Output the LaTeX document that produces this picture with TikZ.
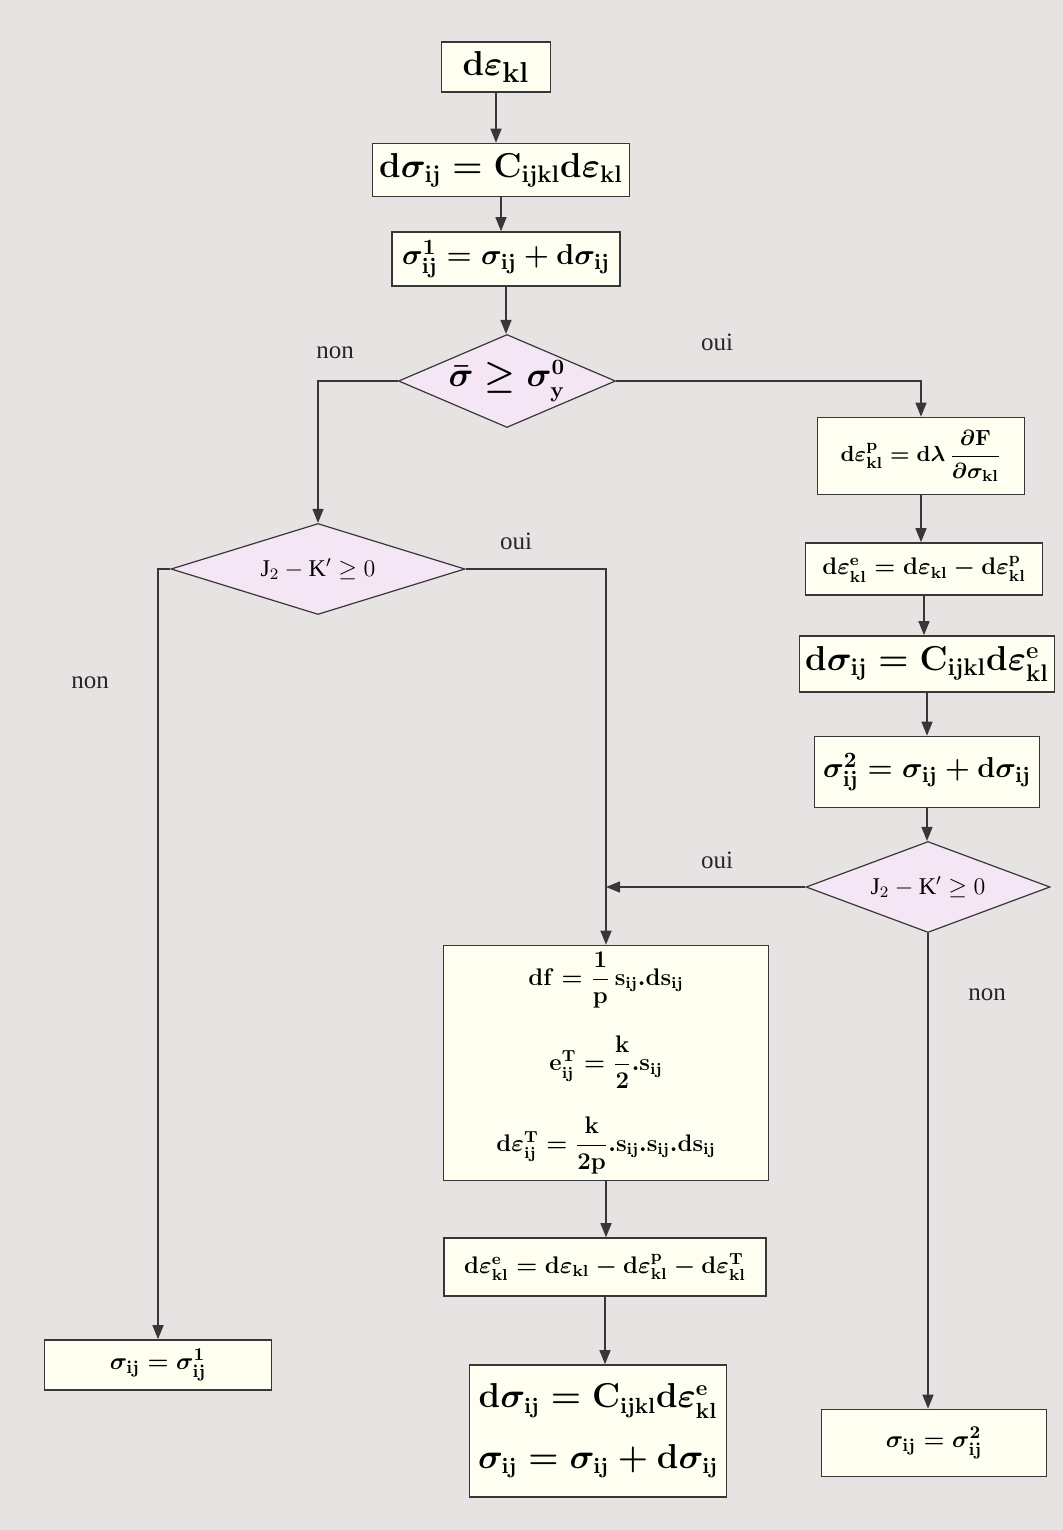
\documentclass[tikz,border=0pt]{standalone}
\usepackage{amsmath}
\usepackage{fontspec}
\setmainfont{Liberation Serif}
\usepackage{tikz}
\usetikzlibrary{positioning, shapes.geometric, arrows.meta}

\definecolor{scan}{RGB}{231,227,227}
\definecolor{cream}{RGB}{255,255,241}
\definecolor{lilac}{RGB}{245,230,245}
\definecolor{ink}{RGB}{55,55,55}

\newcommand{\ud}{\mathbf{d}}
\newcommand{\fs}[1]{\fontsize{#1}{#1}\selectfont\boldmath}

\begin{document}
\begin{tikzpicture}[x=0.5pt, y=-0.5pt,
    box/.style={draw=ink, line width=0.8pt, fill=cream, inner sep=2pt},
    decision/.style={diamond, draw=ink, line width=0.6pt, fill=lilac, inner sep=0pt},
    flow/.style={-{Triangle[length=7pt, width=5.5pt]}, line width=0.7pt, draw=ink},
    answer/.style={font=\fontsize{12.5}{14}\selectfont, text=black!85}]

    % scanned sheet
    \fill[scan] (0,0) rectangle (1063,1530);

    % main column
    \node (dek) [box, minimum width=54.5pt, minimum height=25pt, font=\fs{19}] at (496,67) {$\ud\varepsilon_{\mathbf{kl}}$};
    \node (dsig) [box, minimum width=128.5pt, minimum height=26.5pt, font=\fs{17}] at (501,170) {$\ud\sigma_{\mathbf{ij}} = \mathbf{C}_{\mathbf{ijkl}}\ud\varepsilon_{\mathbf{kl}}$};
    \node (sig1) [box, minimum width=114pt, minimum height=27pt, font=\fs{15}] at (506,259) {$\sigma^{\mathbf{1}}_{\mathbf{ij}} = \sigma_{\mathbf{ij}} + \ud\sigma_{\mathbf{ij}}$};
    \node (yield) [decision, aspect=2.3, minimum width=108.5pt, minimum height=46.5pt, font=\fs{16}] at (507,381) {$\bar{\sigma} \geq \sigma^{\mathbf{0}}_{\mathbf{y}}$};

    % plastic branch (right)
    \node (plast) [box, minimum width=103.5pt, minimum height=38.5pt, font=\fs{11}] at (921,456) {$\ud\varepsilon^{\mathbf{p}}_{\mathbf{kl}} = \ud\lambda\,\dfrac{\partial\mathbf{F}}{\partial\sigma_{\mathbf{kl}}}$};
    \node (elast) [box, minimum width=118.5pt, minimum height=26pt, font=\fs{12}] at (924,569) {$\ud\varepsilon^{\mathbf{e}}_{\mathbf{kl}} = \ud\varepsilon_{\mathbf{kl}} - \ud\varepsilon^{\mathbf{p}}_{\mathbf{kl}}$};
    \node (dsig2) [box, minimum width=127.5pt, minimum height=28pt, font=\fs{17}] at (927,664) {$\ud\sigma_{\mathbf{ij}} = \mathbf{C}_{\mathbf{ijkl}}\ud\varepsilon^{\mathbf{e}}_{\mathbf{kl}}$};
    \node (sig2) [box, minimum width=112.5pt, minimum height=35.5pt, font=\fs{15}] at (927,772) {$\sigma^{\mathbf{2}}_{\mathbf{ij}} = \sigma_{\mathbf{ij}} + \ud\sigma_{\mathbf{ij}}$};
    \node (trans2) [decision, aspect=2.7, minimum width=122pt, minimum height=45.5pt, font=\fontsize{12}{12}\selectfont] at (928,887) {$\mathrm{J}_2 - \mathrm{K}' \geq 0$};
    \node (sig2end) [box, minimum width=112.5pt, minimum height=33.5pt, font=\fs{13}] at (934,1443) {$\sigma_{\mathbf{ij}} = \sigma^{\mathbf{2}}_{\mathbf{ij}}$};

    % transformation branch (left)
    \node (trans) [decision, aspect=3.2, minimum width=147pt, minimum height=45.5pt, font=\fontsize{12}{12}\selectfont] at (318,569) {$\mathrm{J}_2 - \mathrm{K}' \geq 0$};
    \node (sig1end) [box, minimum width=113.5pt, minimum height=25pt, font=\fs{13}] at (158,1365) {$\sigma_{\mathbf{ij}} = \sigma^{\mathbf{1}}_{\mathbf{ij}}$};
    \node (tbox) [box, minimum width=162.5pt, minimum height=117.5pt, align=center, font=\fs{11.5}] at (606,1063) {%
        $\mathbf{df} = \dfrac{\mathbf{1}}{\mathbf{p}}\,\mathbf{s}_{\mathbf{ij}}.\mathbf{ds}_{\mathbf{ij}}$\\[13pt]
        $\mathbf{e}^{\mathbf{T}}_{\mathbf{ij}} = \dfrac{\mathbf{k}}{2}.\mathbf{s}_{\mathbf{ij}}$\\[13pt]
        $\ud\varepsilon^{\mathbf{T}}_{\mathbf{ij}} = \dfrac{\mathbf{k}}{\mathbf{2p}}.\mathbf{s}_{\mathbf{ij}}.\mathbf{s}_{\mathbf{ij}}.\mathbf{ds}_{\mathbf{ij}}$};
    \node (telast) [box, minimum width=161pt, minimum height=29pt, font=\fs{12}] at (605,1267) {$\ud\varepsilon^{\mathbf{e}}_{\mathbf{kl}} = \ud\varepsilon_{\mathbf{kl}} - \ud\varepsilon^{\mathbf{p}}_{\mathbf{kl}} - \ud\varepsilon^{\mathbf{T}}_{\mathbf{kl}}$};
    \node (final) [box, minimum width=128.5pt, minimum height=66pt, align=center, font=\fs{16}] at (598,1431) {%
        $\ud\sigma_{\mathbf{ij}} = \mathbf{C}_{\mathbf{ijkl}}\ud\varepsilon^{\mathbf{e}}_{\mathbf{kl}}$\\[12pt]
        $\sigma_{\mathbf{ij}} = \sigma_{\mathbf{ij}} + \ud\sigma_{\mathbf{ij}}$};

    % arrows main column
    \draw[flow] (dek.south) -- (dek.south |- dsig.north);
    \draw[flow] (dsig.south) -- (dsig.south |- sig1.north);
    \draw[flow] (sig1.south) -- (sig1.south |- yield.north);
    \draw[flow] (yield.east) -| (plast.north);
    \draw[flow] (yield.west) -| (trans.north);

    % arrows right column
    \draw[flow] (plast.south) -- (plast.south |- elast.north);
    \draw[flow] (elast.south) -- (elast.south |- dsig2.north);
    \draw[flow] (dsig2.south) -- (dsig2.south |- sig2.north);
    \draw[flow] (sig2.south) -- (sig2.south |- trans2.north);
    \draw[flow] (trans2.south) -- (trans2.south |- sig2end.north);
    \draw[flow] (trans2.west) -- (trans2.west -| tbox.north);

    % arrows left column
    \draw[flow] (trans.east) -| (tbox.north);
    \draw[flow] (trans.west) -| (sig1end.north);
    \draw[flow] (tbox.south) -- (tbox.south |- telast.north);
    \draw[flow] (telast.south) -- (telast.south |- final.north);

    % answers
    \node (n1) [answer] at (335,353) {non};
    \node (o1) [answer] at (717,342) {oui};
    \node (o2) [answer] at (516,541) {oui};
    \node (n2) [answer] at (90,683) {non};
    \node (o3) [answer] at (717,860) {oui};
    \node (n3) [answer] at (987,995) {non};
\end{tikzpicture}
\end{document}
